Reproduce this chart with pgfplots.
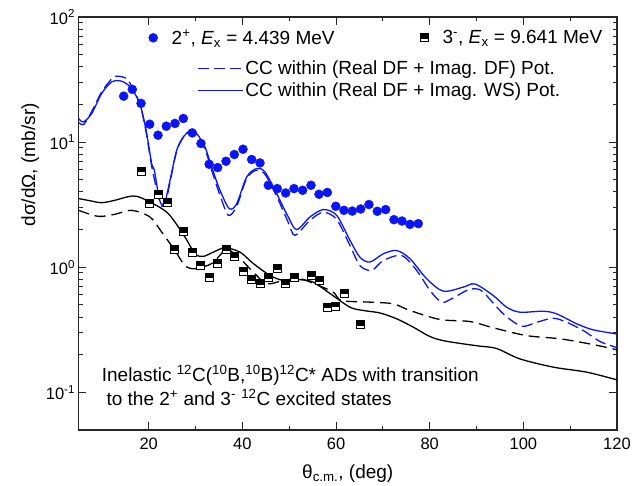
\documentclass[border=0pt]{standalone}
\usepackage{fontspec}
\setmainfont{Liberation Sans}
\usepackage{pgfplots}
\pgfplotsset{compat=1.18}
\definecolor{myblue}{RGB}{10,20,245}
\pgfdeclareplotmark{halfsq}{%
  \pgfpathrectangle{\pgfpoint{-\pgfplotmarksize}{-\pgfplotmarksize}}{\pgfpoint{2\pgfplotmarksize}{2\pgfplotmarksize}}%
  \pgfsetfillcolor{white}\pgfusepathqfillstroke
  \pgfpathrectangle{\pgfpoint{-\pgfplotmarksize}{-0.15\pgfplotmarksize}}{\pgfpoint{2\pgfplotmarksize}{1.15\pgfplotmarksize}}%
  \pgfsetfillcolor{black}\pgfusepathqfillstroke
}
\pgfplotstableread{
x y
14.65 23.3
16.49 26.4
18.35 20.4
20.2 13.9
21.98 11.35
23.75 13.4
25.6 14.1
27.38 15.45
29.3 11.85
31.16 9.75
32.9 6.65
34.72 6.26
36.5 7.03
38.27 7.96
40.13 8.77
41.98 7.26
43.76 6.82
45.53 4.52
47.45 4.25
49.24 3.92
51.02 4.25
52.87 4.12
54.65 4.52
56.36 3.83
58.13 3.96
59.94 3.07
61.69 2.85
63.47 2.81
65.26 2.92
67.03 3.17
68.8 2.80
70.6 2.89
72.37 2.40
74.08 2.34
75.79 2.20
77.56 2.23
}\twoplus
\pgfplotstableread{
x y
18.35 5.88
20.2 3.26
21.98 3.83
23.9 3.28
25.46 1.38
27.38 1.93
29.24 1.32
31.1 1.04
32.9 0.836
34.72 1.08
36.5 1.38
38.27 1.22
40.13 0.93
41.98 0.80
43.76 0.738
45.6 0.824
47.39 0.973
49.16 0.738
51.02 0.824
54.65 0.86
56.36 0.784
58.2 0.479
59.92 0.488
61.69 0.62
65.26 0.346
}\threeminus
\pgfplotstableread{
x y
5.0 15.5
6.02 14.5
7.82 16.9
9.95 24.5
12.09 30.3
13.86 30.9
15.63 28.6
17.43 23.0
18.5 18.0
19.56 11.7
20.63 6.74
21.19 5.96
22.04 3.88
22.62 3.22
23.47 3.32
24.54 4.95
25.97 8.61
27.38 11.0
28.81 12.3
30.24 11.7
32.01 9.15
33.44 6.33
35.22 4.12
37.2 2.94
38.78 3.22
40.92 5.27
43.05 6.15
44.82 5.77
47.32 3.88
49.8 2.52
51.59 2.00
54.43 2.52
57.27 2.89
60.13 2.60
62.98 1.64
65.11 1.20
67.25 1.10
70.09 1.28
72.95 1.36
75.79 1.17
79.35 0.809
82.9 0.644
87.17 0.693
89.67 0.735
93.58 0.594
96.44 0.479
99.28 0.437
104.25 0.445
107.1 0.424
111.4 0.353
114.9 0.316
119.9 0.293
}\bluesolid
\pgfplotstableread{
x y
5.0 14.4
6.17 13.9
8.16 18.6
9.95 25.2
12.43 32.9
14.22 33.3
15.57 31.3
17.43 23.3
18.5 17.7
19.56 11.35
20.63 6.41
22.04 3.69
22.83 3.07
23.68 3.36
24.54 4.77
25.97 8.46
27.38 10.9
28.81 12.1
30.24 11.35
32.01 8.77
33.44 5.96
35.22 3.76
37.0 2.60
38.78 3.07
40.92 5.14
43.05 5.96
44.82 5.53
47.32 3.69
49.8 2.28
51.23 1.80
54.43 2.37
57.27 2.75
60.13 2.41
62.98 1.49
65.11 1.03
67.61 0.943
70.09 1.13
74.02 1.24
77.22 0.943
80.06 0.652
82.56 0.526
84.69 0.560
87.9 0.652
89.67 0.673
91.44 0.632
95.71 0.424
99.64 0.338
102.84 0.363
106.39 0.391
109.25 0.363
112.8 0.312
116.36 0.255
119.93 0.228
}\bluedashed
\pgfplotstableread{
x y
5.0 3.54
7.46 3.40
9.95 3.28
12.79 3.43
15.57 3.66
17.43 3.69
20.27 3.32
24.18 2.68
27.74 1.74
29.88 1.28
31.65 1.22
33.79 1.32
36.28 1.43
39.49 1.32
42.33 1.07
45.89 0.86
48.73 0.784
52.3 0.794
55.14 0.760
58.7 0.617
62.98 0.479
65.82 0.451
69.38 0.431
72.95 0.387
76.49 0.332
80.06 0.279
82.9 0.259
87.17 0.244
90.73 0.234
94.3 0.224
99.28 0.185
106.39 0.159
113.52 0.145
119.93 0.126
}\blacksolid
\pgfplotstableread{
x y
5.0 2.85
9.23 2.55
12.79 2.65
16.36 2.85
20.27 2.52
22.77 1.91
25.6 1.36
27.74 1.03
29.88 0.973
33.44 1.07
36.65 1.38
39.49 1.17
42.33 0.914
45.19 0.738
48.73 0.784
52.3 0.809
55.7 0.729
59.4 0.632
61.2 0.542
67.25 0.526
72.2 0.51
75.79 0.451
82.2 0.382
88.6 0.368
93.58 0.328
100.7 0.284
107.8 0.268
114.9 0.241
119.93 0.219
}\blackdashed
\begin{document}
\begin{tikzpicture}
\begin{axis}[
  name=main,
  scale only axis, width=538.5bp, height=413bp,
  xmin=5, xmax=120, ymin=0.05, ymax=100, ymode=log,
  xtick={20,40,60,80,100,120}, minor x tick num=1,
  ytick={0.1,1,10,100},
  yticklabels={10\textsuperscript{-1},10\textsuperscript{0},10\textsuperscript{1},10\textsuperscript{2}},
  /pgf/number format/assume math mode=true,
  tick label style={font=\fontsize{16.5bp}{19bp}\selectfont},
  xticklabel style={yshift=-4bp},
  major tick length=8bp, minor tick length=4.5bp,
  axis line style={line width=1.2bp, black!85},
  every tick/.style={line width=1bp, black!85},
  xlabel={θ\textsubscript{c.m.}, (deg)},
  ylabel={dσ/dΩ, (mb/sr)},
  label style={font=\fontsize{19bp}{22bp}\selectfont},
  xlabel style={yshift=-9bp},
  ylabel style={at={(ticklabel cs:0.642)}, anchor=near ticklabel},
  legend columns=2,
  legend style={at={(rel axis cs:0.13,0.975)}, anchor=north west, draw=none, fill=none,
    inner sep=0pt, font=\fontsize{19bp}{22bp}\selectfont,
    /tikz/every odd column/.append style={column sep=12bp},
    /tikz/every even column/.append style={column sep=84bp}},
]
\addplot[black, line width=1.3bp, smooth, forget plot] table {\blacksolid};
\addplot[black, line width=1.3bp, dash pattern=on 11bp off 6bp, smooth, forget plot] table {\blackdashed};
\addplot[myblue, line width=1.3bp, dash pattern=on 11bp off 5bp, smooth, forget plot] table {\bluedashed};
\addplot[myblue, line width=1.3bp, smooth, forget plot] table {\bluesolid};
\addplot[only marks, mark=*, mark size=4.5bp, myblue] table {\twoplus};
\addlegendentry{2\textsuperscript{+}, \textit{E}\textsubscript{x} = 4.439 MeV}
\addplot[only marks, mark=halfsq, mark size=4bp, black, line width=0.8bp] table {\threeminus};
\addlegendentry{3\textsuperscript{-}, \textit{E}\textsubscript{x} = 9.641 MeV}
\node[anchor=north west, align=left, inner sep=0pt, font=\fontsize{19bp}{24bp}\selectfont]
  at (rel axis cs:0.043,0.158)
  {Inelastic \textsuperscript{12}C(\textsuperscript{10}B,\textsuperscript{10}B)\textsuperscript{12}C* ADs with transition\\
   \hspace{0.25em}to the 2\textsuperscript{+} and 3\textsuperscript{-} \textsuperscript{12}C excited states};
\end{axis}
\begin{axis}[
  scale only axis, width=538.5bp, height=413bp,
  xmin=5, xmax=120, ymin=0.05, ymax=100, ymode=log,
  hide axis,
  legend style={at={(rel axis cs:0.22,0.899)}, anchor=north west, draw=none, fill=none,
    inner sep=0pt, font=\fontsize{19bp}{22bp}\selectfont},
  legend cell align=left,
  legend image code/.code={\draw[#1, draw=myblue, line width=1.3bp] (0bp,0bp) -- (45bp,0bp);},
]
\addlegendimage{dash pattern=on 11bp off 5bp}
\addlegendentry{CC within (Real DF + Imag. DF) Pot.}
\end{axis}
\begin{axis}[
  scale only axis, width=538.5bp, height=413bp,
  xmin=5, xmax=120, ymin=0.05, ymax=100, ymode=log,
  hide axis,
  legend style={at={(rel axis cs:0.22,0.8455)}, anchor=north west, draw=none, fill=none,
    inner sep=0pt, font=\fontsize{19bp}{22bp}\selectfont},
  legend cell align=left,
  legend image code/.code={\draw[#1, draw=myblue, line width=1.3bp] (0bp,0bp) -- (45bp,0bp);},
]
\addlegendimage{solid}
\addlegendentry{CC within (Real DF + Imag. WS) Pot.}
\end{axis}
\pgfresetboundingbox
\path ([shift={(-78.5bp,-56bp)}]main.south west) rectangle ([shift={(16bp,17bp)}]main.north east);
\end{tikzpicture}
\end{document}
